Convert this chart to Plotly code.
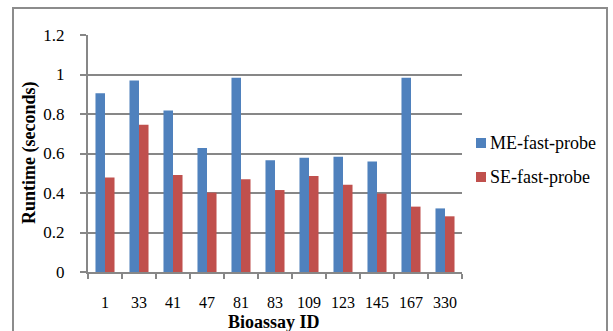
import plotly.graph_objects as go

# Bioassay runtimes for the two probing strategies
bioassay_ids = ["1", "33", "41", "47", "81", "83", "109", "123", "145", "167", "330"]
me_fast_probe = [0.905, 0.970, 0.818, 0.628, 0.984, 0.566, 0.578, 0.584, 0.559, 0.984, 0.322]
se_fast_probe = [0.478, 0.745, 0.491, 0.402, 0.470, 0.415, 0.486, 0.442, 0.397, 0.331, 0.282]
y_ticks = [0, 0.2, 0.4, 0.6, 0.8, 1.0, 1.2]
y_tick_text = ["0", "0.2", "0.4", "0.6", "0.8", "1", "1.2"]

W, H = 613, 331
L, R, T, B = 88, 151, 35, 59
PW, PH = W - L - R, H - T - B

SERIF = "Liberation Serif"
GRID = "#878787"
BLUE, RED = "#4F81BD", "#C0504D"


def px_x(x):
    return (x - L) / PW


def px_y(y):
    return (H - B - y) / PH


fig = go.Figure()
fig.add_trace(go.Bar(x=bioassay_ids, y=me_fast_probe, name="ME-fast-probe",
                     marker=dict(color=BLUE, line=dict(width=0))))
fig.add_trace(go.Bar(x=bioassay_ids, y=se_fast_probe, name="SE-fast-probe",
                     marker=dict(color=RED, line=dict(width=0))))

# Compact legend to the right of the plot: colour swatch followed by label
legend_items = [("ME-fast-probe", BLUE, 143), ("SE-fast-probe", RED, 177)]
legend_shapes = []
legend_notes = []
for label, color, yc in legend_items:
    legend_shapes.append(dict(type="rect", xref="paper", yref="paper",
                              x0=px_x(476), x1=px_x(486),
                              y0=px_y(yc + 5), y1=px_y(yc - 5),
                              line=dict(width=0), fillcolor=color))
    legend_notes.append(dict(text=label, xref="paper", yref="paper",
                             x=px_x(488), y=px_y(yc), xanchor="left",
                             yanchor="middle", showarrow=False,
                             font=dict(family=SERIF, size=18)))

fig.update_layout(
    width=W, height=H,
    margin=dict(l=L, r=R, t=T, b=B, autoexpand=False),
    paper_bgcolor="white", plot_bgcolor="white",
    barmode="group", bargap=0.44, bargroupgap=0,
    font=dict(family=SERIF, size=18, color="black"),
    showlegend=False,
    xaxis=dict(type="category", tickson="boundaries", ticks="outside",
               ticklen=5, tickwidth=2, tickcolor=GRID, tickangle=0,
               showline=True, linecolor=GRID, linewidth=2,
               showgrid=False, ticklabelstandoff=15,
               tickfont=dict(family=SERIF, size=16)),
    yaxis=dict(range=[0, 1.2], tickvals=y_ticks, ticktext=y_tick_text,
               ticks="outside", ticklen=6, tickwidth=2, tickcolor=GRID,
               showline=True, linecolor=GRID, linewidth=2,
               showgrid=True, gridcolor=GRID, gridwidth=2,
               zeroline=False, ticklabelstandoff=12,
               tickfont=dict(family=SERIF, size=17)),
    shapes=[dict(type="rect", xref="paper", yref="paper",
                 x0=px_x(13), x1=px_x(607), y0=px_y(345), y1=px_y(8),
                 line=dict(color="#8c8c8c", width=2), fillcolor="rgba(0,0,0,0)",
                 layer="above")] + legend_shapes,
    annotations=[
        dict(text="<b>Runtime (seconds)</b>", textangle=-90,
             xref="paper", yref="paper", x=px_x(29), y=px_y(153),
             xanchor="center", yanchor="middle", showarrow=False,
             font=dict(family=SERIF, size=18)),
        dict(text="<b>Bioassay ID</b>",
             xref="paper", yref="paper", x=px_x(274), y=px_y(322),
             xanchor="center", yanchor="middle", showarrow=False,
             font=dict(family=SERIF, size=18)),
    ] + legend_notes,
)

fig.write_html("out.html")
